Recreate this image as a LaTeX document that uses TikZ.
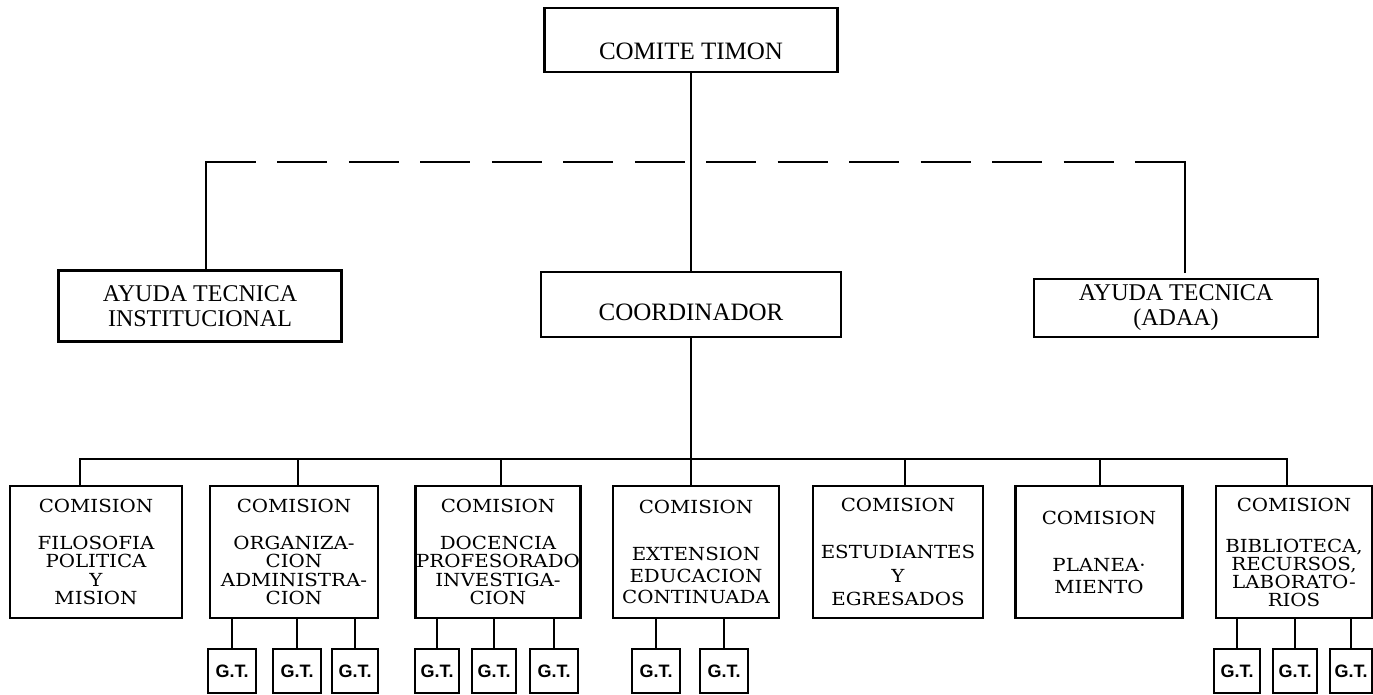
\documentclass[tikz,border=0pt]{standalone}
\usepackage{fontspec}
\setmainfont{Liberation Serif}
\newfontfamily\comfont[FakeStretch=1.1]{DejaVu Serif}
\newfontfamily\gtfont{Liberation Sans}

\begin{document}
\begin{tikzpicture}[x=1pt, y=-1pt, font=\fontsize{24}{25}\selectfont]
    \tikzstyle{box_style} = [draw=black, line width=2.3, inner sep=0, outer sep=0, align=center]
    \tikzstyle{com_style} = [box_style, minimum height=132, font=\comfont\fontsize{18}{18.5}\selectfont]
    \tikzstyle{gt_style} = [box_style, minimum height=44, font=\gtfont\bfseries\fontsize{18}{18}\selectfont]
    \tikzstyle{edge_style} = [black, line width=2]
    \tikzstyle{dash_style} = [black, line width=2, dash pattern=on 50pt off 21.46pt]

    \useasboundingbox (0,0) rectangle (1373,695);

    % top levels
    \node[box_style, minimum width=293, minimum height=64, text height=40, text depth=0, font=\fontsize{25}{25}\selectfont] (top) at (691,40) {COMITE TIMON};
    \node[box_style, minimum width=300, minimum height=65, text height=31, text depth=0, font=\fontsize{25}{25}\selectfont] (coord) at (691,304.5) {COORDINADOR};
    \node[box_style, minimum width=283, minimum height=71] (help1) at (200,306) {AYUDA TECNICA\\ INSTITUCIONAL};
    \node[box_style, minimum width=284, minimum height=58] (help2) at (1176,308) {AYUDA TECNICA\\ (ADAA)};

    % comisiones
    \node[com_style, minimum width=172] (com1) at (96,552) {COMISION\\[18.5pt] FILOSOFIA\\ POLITICA\\ Y\\ MISION};
    \node[com_style, minimum width=168] (com2) at (294,552) {COMISION\\[18.5pt] ORGANIZA-\\ CION\\ ADMINISTRA-\\ CION};
    \node[com_style, minimum width=165] (com3) at (498,552) {COMISION\\[18.5pt] DOCENCIA\\ PROFESORADO\\ INVESTIGA-\\ CION};
    \node[com_style, minimum width=166, font=\comfont\fontsize{18}{21.5}\selectfont] (com4) at (696,552) {COMISION\\[25.5pt] EXTENSION\\ EDUCACION\\ CONTINUADA};
    \node[com_style, minimum width=170, font=\comfont\fontsize{18}{23.5}\selectfont] (com5) at (898,552) {COMISION\\[23.5pt] ESTUDIANTES\\ Y\\ EGRESADOS};
    \node[com_style, minimum width=167, font=\comfont\fontsize{18}{22}\selectfont] (com6) at (1099,552) {COMISION\\[25pt] PLANEA·\\ MIENTO};
    \node[com_style, minimum width=156, font=\comfont\fontsize{18}{18}\selectfont] (com7) at (1294,552) {COMISION\\[23pt] BIBLIOTECA,\\ RECURSOS,\\ LABORATO-\\ RIOS};

    % grupos de trabajo
    \node[gt_style, minimum width=48] (gt1) at (232,671) {G.T.};
    \node[gt_style, minimum width=48] (gt2) at (297,671) {G.T.};
    \node[gt_style, minimum width=46] (gt3) at (355,671) {G.T.};
    \node[gt_style, minimum width=44] (gt4) at (437,671) {G.T.};
    \node[gt_style, minimum width=44] (gt5) at (494,671) {G.T.};
    \node[gt_style, minimum width=48] (gt6) at (554,671) {G.T.};
    \node[gt_style, minimum width=48] (gt7) at (656,671) {G.T.};
    \node[gt_style, minimum width=48] (gt8) at (724,671) {G.T.};
    \node[gt_style, minimum width=46] (gt9) at (1237,671) {G.T.};
    \node[gt_style, minimum width=44] (gt10) at (1295,671) {G.T.};
    \node[gt_style, minimum width=42] (gt11) at (1351,671) {G.T.};

    \coordinate (dl) at (206,162);
    \coordinate (dr) at (1185,162);
    \coordinate (bus) at (691,459);

    \draw[edge_style] (top) -- (coord);
    \draw[dash_style] (dl) -- (dr);
    \draw[edge_style] (dl |- help1.north) |- ([xshift=30pt]dl);
    \draw[edge_style, shorten <=6pt] (dr |- help2.north) |- ([xshift=-30pt]dr);

    \draw[edge_style] (coord) -- (coord |- com4.north);
    \draw[edge_style] ([xshift=-16pt]com1.north) |- (bus) -| ([xshift=-7pt]com7.north);
    \draw[edge_style] ([xshift=4pt]com2.north) -- ([xshift=4pt]com2.north |- bus);
    \draw[edge_style] ([xshift=3pt]com3.north) -- ([xshift=3pt]com3.north |- bus);
    \draw[edge_style] ([xshift=7pt]com5.north) -- ([xshift=7pt]com5.north |- bus);
    \draw[edge_style] ([xshift=1pt]com6.north) -- ([xshift=1pt]com6.north |- bus);

    \draw[edge_style] (gt1) -- (gt1 |- com2.south);
    \draw[edge_style] (gt2) -- (gt2 |- com2.south);
    \draw[edge_style] (gt3) -- (gt3 |- com2.south);
    \draw[edge_style] (gt4) -- (gt4 |- com3.south);
    \draw[edge_style] (gt5) -- (gt5 |- com3.south);
    \draw[edge_style] (gt6) -- (gt6 |- com3.south);
    \draw[edge_style] (gt7) -- (gt7 |- com4.south);
    \draw[edge_style] (gt8) -- (gt8 |- com4.south);
    \draw[edge_style] (gt9) -- (gt9 |- com7.south);
    \draw[edge_style] (gt10) -- (gt10 |- com7.south);
    \draw[edge_style] (gt11) -- (gt11 |- com7.south);
\end{tikzpicture}
\end{document}
